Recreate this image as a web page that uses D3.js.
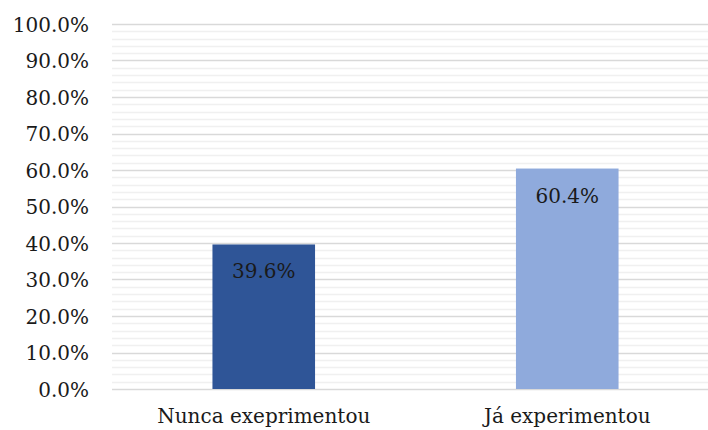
<!DOCTYPE html>
<html>
<head>
<meta charset="utf-8">
<script src="https://cdn.jsdelivr.net/npm/d3@7"></script>
<style>
  html, body { margin: 0; padding: 0; background: #fff; }
  svg { display: block; }
  text { font-family: "DejaVu Serif", Georgia, serif; fill: #1a1a1a; }
</style>
</head>
<body>
<div id="chart"></div>
<script>
const categories = ["Nunca exeprimentou", "Já experimentou"];
const values = [0.396, 0.604];
const valueLabels = ["39.6%", "60.4%"];
const colors = ["#2F5597", "#8FAADC"];
const majorTicks = [0, 0.1, 0.2, 0.3, 0.4, 0.5, 0.6, 0.7, 0.8, 0.9, 1.0];
const minorTicks = d3.range(0, 51).map(i => i / 50);

const W = 708, H = 430;
const margin = { left: 112, right: -11, top: 24, bottom: 41 };

const svg = d3.select("#chart").append("svg").attr("width", W).attr("height", H);

const x = d3.scaleBand().domain(categories)
  .range([margin.left, W - margin.right]).paddingInner(0.662).paddingOuter(0.331);
const y = d3.scaleLinear().domain([0, 1]).range([H - margin.bottom, margin.top]);

const yr = v => Math.round(y(v)) + 0.5;

// minor gridlines
svg.append("g").selectAll("line")
  .data(minorTicks.filter(t => Math.round(t * 50) % 5 !== 0))
  .join("line")
  .attr("x1", margin.left).attr("x2", W - margin.right)
  .attr("y1", d => yr(d)).attr("y2", d => yr(d))
  .attr("stroke", "#f0f0f0").attr("stroke-width", 1.5);

// major gridlines
svg.append("g").selectAll("line")
  .data(majorTicks)
  .join("line")
  .attr("x1", margin.left).attr("x2", W - margin.right)
  .attr("y1", d => yr(d)).attr("y2", d => yr(d))
  .attr("stroke", "#d9d9d9").attr("stroke-width", 1.5);

// y axis labels
const yAxis = d3.axisLeft(y).tickValues(majorTicks).tickFormat(d3.format(".1%")).tickSize(0).tickPadding(23);
const gy = svg.append("g").attr("transform", `translate(${margin.left},0)`).call(yAxis);
gy.select(".domain").remove();
gy.selectAll("text").style("font-family", '"DejaVu Serif", Georgia, serif')
  .style("font-size", "20px").attr("fill", "#1a1a1a").attr("dy", "0.35em");

// bars
svg.append("g").selectAll("rect")
  .data(values)
  .join("rect")
  .attr("x", (d, i) => x(categories[i]))
  .attr("width", x.bandwidth())
  .attr("y", d => y(d))
  .attr("height", d => y(0) - y(d))
  .attr("fill", (d, i) => colors[i]);

// data labels
svg.append("g").selectAll("text")
  .data(values)
  .join("text")
  .attr("x", (d, i) => x(categories[i]) + x.bandwidth() / 2)
  .attr("y", d => y(d) + 34)
  .attr("text-anchor", "middle")
  .style("font-size", "20px")
  .text((d, i) => valueLabels[i]);

// x axis labels
const xAxis = d3.axisBottom(x).tickSize(0).tickPadding(20);
const gx = svg.append("g").attr("transform", `translate(0,${y(0)})`).call(xAxis);
gx.select(".domain").remove();
gx.selectAll("text").style("font-family", '"DejaVu Serif", Georgia, serif')
  .style("font-size", "20px").attr("fill", "#1a1a1a");
</script>
</body>
</html>
